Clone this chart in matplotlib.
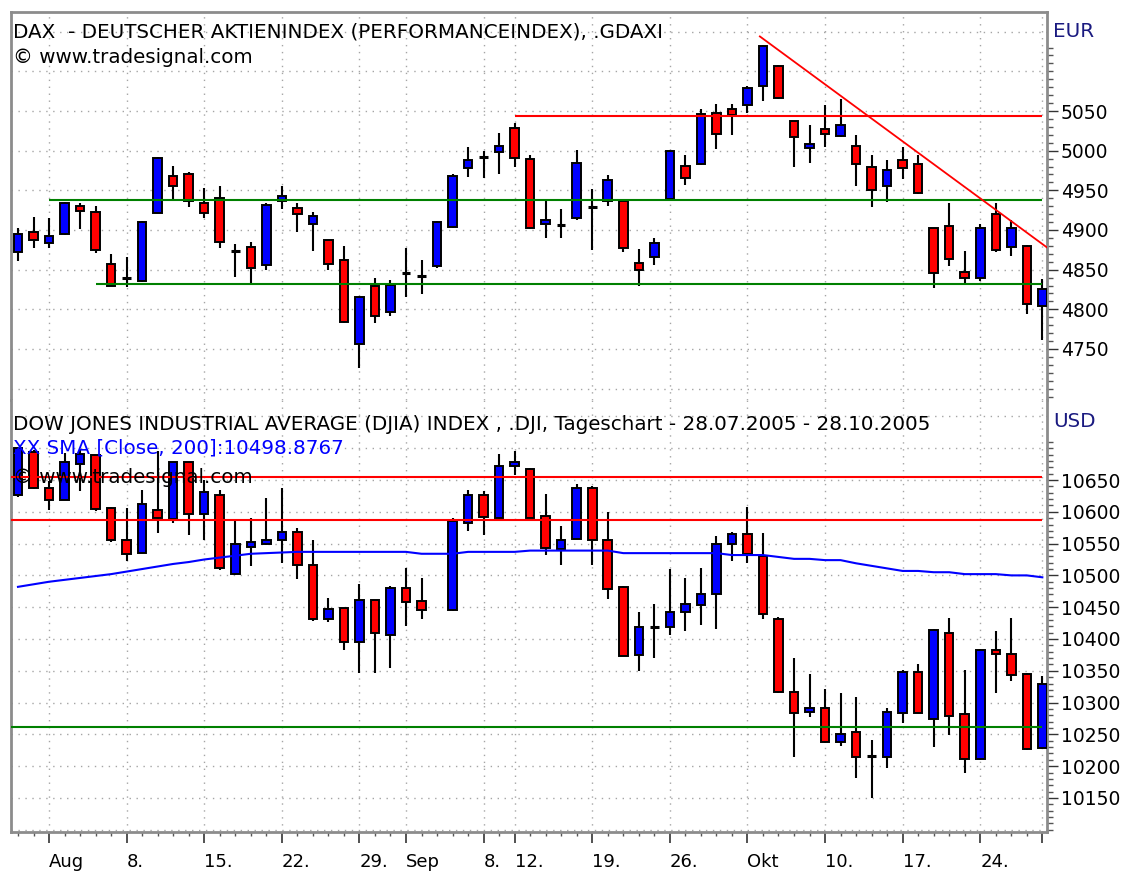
import numpy as np
import pandas as pd
import matplotlib
matplotlib.use('Agg')
import matplotlib.pyplot as plt
from matplotlib.patches import Rectangle

# Handelstage (Mo-Fr) 28.07.2005 - 28.10.2005
days = pd.bdate_range('2005-07-28', '2005-10-28')
pos = {d: i for i, d in enumerate(days)}

# DAX Tageskerzen (67 Tage)
dax_open = [4872, 4898, 4884, 4895, 4930, 4923, 4857, 4840, 4836, 4922,
            4968, 4970, 4934, 4940, 4874, 4878, 4856, 4937, 4928, 4907,
            4887, 4862, 4756, 4830, 4796, 4846, 4841, 4854, 4904, 4978,
            4992, 4998, 5028, 4990, 4908, 4906, 4915, 4928, 4936, 4936,
            4859, 4866, 4939, 4981, 4983, 5048, 5053, 5058, 5082, 5107,
            5037, 5003, 5027, 5018, 5006, 4979, 4955, 4988, 4983, 4902,
            4905, 4847, 4839, 4920, 4878, 4880, 4804]
dax_high = [4903, 4916, 4915, 4935, 4934, 4930, 4870, 4866, 4911, 4992,
            4981, 4973, 4953, 4956, 4882, 4885, 4934, 4956, 4934, 4923,
            4888, 4880, 4817, 4840, 4837, 4877, 4862, 4911, 4971, 5004,
            4999, 5022, 5035, 4994, 4938, 4926, 5001, 4952, 4969, 4937,
            4876, 4890, 5000, 4994, 5052, 5059, 5059, 5082, 5133, 5108,
            5038, 5032, 5058, 5065, 5020, 4995, 4988, 5004, 4995, 4903,
            4934, 4873, 4908, 4934, 4913, 4881, 4838]
dax_low = [4861, 4877, 4877, 4894, 4901, 4871, 4829, 4828, 4835, 4921,
           4939, 4929, 4915, 4877, 4841, 4832, 4850, 4927, 4897, 4874,
           4849, 4783, 4726, 4783, 4792, 4816, 4819, 4852, 4903, 4967,
           4966, 4971, 4980, 4901, 4890, 4890, 4912, 4875, 4930, 4872,
           4829, 4856, 4938, 4957, 4982, 5002, 5020, 5048, 5063, 5065,
           4980, 4984, 5004, 5017, 4955, 4929, 4935, 4964, 4945, 4827,
           4854, 4833, 4836, 4872, 4867, 4794, 4761]
dax_close = [4895, 4887, 4893, 4934, 4924, 4875, 4830, 4839, 4910, 4991,
             4955, 4937, 4922, 4885, 4874, 4852, 4931, 4943, 4920, 4918,
             4857, 4784, 4815, 4792, 4831, 4845, 4842, 4910, 4968, 4988,
             4993, 5006, 4991, 4902, 4913, 4907, 4985, 4929, 4963, 4877,
             4850, 4884, 4999, 4965, 5046, 5021, 5045, 5079, 5132, 5066,
             5017, 5009, 5021, 5032, 4983, 4950, 4976, 4978, 4947, 4846,
             4864, 4839, 4902, 4875, 4902, 4807, 4826]

# Dow Jones (Labor Day 05.09. kein Handel)
djia_days = [d for d in days if d != pd.Timestamp('2005-09-05')]
djia_open = [10626, 10694, 10637, 10619, 10675, 10689, 10606, 10555, 10536, 10603,
             10588, 10678, 10596, 10626, 10502, 10545, 10549, 10556, 10568, 10517,
             10432, 10448, 10395, 10461, 10406, 10480, 10459, 10445, 10583, 10627,
             10590, 10672, 10668, 10593, 10542, 10558, 10637, 10556, 10482, 10375,
             10418, 10419, 10442, 10453, 10470, 10549, 10565, 10530, 10432, 10316,
             10285, 10291, 10238, 10253, 10215, 10215, 10284, 10348, 10274, 10410,
             10282, 10211, 10383, 10376, 10345, 10228]
djia_high = [10701, 10697, 10648, 10692, 10697, 10690, 10607, 10606, 10635, 10695,
             10679, 10679, 10650, 10634, 10585, 10591, 10622, 10638, 10575, 10556,
             10465, 10449, 10487, 10462, 10483, 10512, 10496, 10591, 10635, 10632,
             10691, 10695, 10669, 10628, 10578, 10644, 10640, 10600, 10483, 10443,
             10455, 10510, 10496, 10512, 10562, 10568, 10607, 10566, 10435, 10370,
             10345, 10322, 10315, 10308, 10241, 10291, 10352, 10360, 10415, 10433,
             10352, 10385, 10412, 10433, 10346, 10342]
djia_low = [10624, 10636, 10603, 10618, 10633, 10602, 10552, 10523, 10535, 10567,
            10583, 10564, 10555, 10509, 10501, 10514, 10548, 10519, 10494, 10429,
            10426, 10382, 10346, 10346, 10354, 10421, 10431, 10444, 10570, 10564,
            10589, 10658, 10590, 10532, 10516, 10557, 10516, 10463, 10373, 10350,
            10370, 10406, 10413, 10422, 10415, 10523, 10519, 10432, 10315, 10214,
            10278, 10236, 10231, 10182, 10150, 10197, 10268, 10283, 10230, 10249,
            10189, 10210, 10315, 10334, 10226, 10227]
djia_close = [10700, 10637, 10619, 10678, 10691, 10604, 10555, 10533, 10612, 10590,
              10678, 10596, 10631, 10511, 10549, 10552, 10556, 10568, 10517, 10431,
              10447, 10395, 10461, 10410, 10480, 10458, 10445, 10586, 10627, 10592,
              10672, 10679, 10591, 10543, 10556, 10637, 10556, 10479, 10374, 10419,
              10419, 10442, 10455, 10471, 10549, 10565, 10533, 10439, 10316, 10284,
              10291, 10238, 10251, 10215, 10216, 10285, 10348, 10284, 10414, 10279,
              10211, 10383, 10376, 10343, 10227, 10329]
djia_sma200 = [10482, 10486, 10490, 10493, 10496, 10499, 10502, 10506, 10510, 10514,
               10518, 10521, 10525, 10528, 10531, 10534, 10535, 10536, 10537, 10537,
               10537, 10537, 10537, 10537, 10537, 10537, 10534, 10534, 10537, 10537,
               10537, 10537, 10539, 10539, 10539, 10539, 10539, 10539, 10535, 10535,
               10535, 10535, 10535, 10535, 10535, 10532, 10532, 10532, 10529, 10526,
               10526, 10524, 10524, 10519, 10515, 10511, 10507, 10507, 10505, 10505,
               10502, 10502, 10502, 10500, 10500, 10497]

# Unterstützungen / Widerstände
dax_red_level = 5044
dax_green_levels = [4938, 4832]
dax_green_start = [2, 5]
dax_trend_x = [47.8, 66.3]
dax_trend_y = [5144, 4878]
djia_red_levels = [10655, 10587]
djia_green_level = 10262

tick_days = ['2005-08-01', '2005-08-08', '2005-08-15', '2005-08-22', '2005-08-29',
             '2005-09-01', '2005-09-08', '2005-09-12', '2005-09-19', '2005-09-26',
             '2005-10-03', '2005-10-10', '2005-10-17', '2005-10-24', '2005-10-28']
tick_labels = ['Aug', '8.', '15.', '22.', '29.', 'Sep', '8.', '12.', '19.', '26.',
               'Okt', '10.', '17.', '24.', '']

W, H = 1128, 874
fig = plt.figure(figsize=(W / 100, H / 100), dpi=100)
fig.patch.set_facecolor('white')
ax_top = fig.add_axes([11 / W, 1 - 400 / H, 1036 / W, 388 / H])
ax_bot = fig.add_axes([11 / W, 1 - 832 / H, 1036 / W, 432 / H], sharex=ax_top)

BLUE, RED, GREEN = '#0000ff', '#ff0000', '#008000'
FS = 13          # Achsenbeschriftung
FS_T = 14.3      # Titelzeilen
body_w = 0.55


def candles(ax, xs, o, h, l, c):
    for x, oo, hh, ll, cc in zip(xs, o, h, l, c):
        ax.vlines(x, ll, hh, color='black', lw=1.5, zorder=2)
        if abs(cc - oo) < 1.5:
            ax.hlines((oo + cc) / 2, x - body_w / 2, x + body_w / 2, color='black', lw=2.2, zorder=3)
        else:
            col = BLUE if cc > oo else RED
            ax.add_patch(Rectangle((x - body_w / 2, min(oo, cc)), body_w, abs(cc - oo),
                                   facecolor=col, edgecolor='black', lw=1.4, zorder=3))


x_dax = [pos[d] for d in days]
x_djia = [pos[d] for d in djia_days]
tick_x = [pos[pd.Timestamp(t)] for t in tick_days]

candles(ax_top, x_dax, dax_open, dax_high, dax_low, dax_close)
candles(ax_bot, x_djia, djia_open, djia_high, djia_low, djia_close)

# Linien
ax_top.hlines(dax_red_level, 32, 66, color=RED, lw=1.5, zorder=4)
for lev, st in zip(dax_green_levels, dax_green_start):
    ax_top.hlines(lev, st, 66, color=GREEN, lw=1.5, zorder=4)
ax_top.plot(dax_trend_x, dax_trend_y, color=RED, lw=1.3, zorder=4)

for lev in djia_red_levels:
    ax_bot.hlines(lev, -0.45, 66, color=RED, lw=1.5, zorder=4)
ax_bot.hlines(djia_green_level, -0.45, 66, color=GREEN, lw=1.5, zorder=4)
ax_bot.plot(x_djia, djia_sma200, color=BLUE, lw=1.5, zorder=4)

ax_top.set_xlim(-0.45, 66.3)
ax_top.set_ylim(4685.7, 5174.8)
ax_bot.set_ylim(10096.5, 10775.8)

# Raster (gepunktet)
dot = (0, (1, 4))
for ax, levels in [(ax_top, np.arange(4700, 5151, 50)), (ax_bot, np.arange(10100, 10751, 50))]:
    for v in levels:
        ax.axhline(v, color='#a5a5a5', lw=1.0, ls=dot, zorder=0.5)
    for x in tick_x:
        ax.axvline(x, color='#a5a5a5', lw=1.0, ls=dot, zorder=0.5)

# Achsen
for ax in (ax_top, ax_bot):
    for s in ax.spines.values():
        s.set_color('#8c8c8c')
        s.set_linewidth(2)
    ax.yaxis.tick_right()
    ax.tick_params(axis='y', which='major', direction='out', length=8, width=1,
                   color='#333333', pad=2, labelsize=FS + 0.5)
    ax.tick_params(axis='y', which='minor', direction='out', length=4, width=1, color='#555555')
ax_top.spines['bottom'].set_visible(False)
ax_bot.spines['top'].set_visible(False)

ax_top.set_yticks(np.arange(4750, 5051, 50))
ax_top.set_yticks(np.arange(4690, 5131, 10), minor=True)
ax_bot.set_yticks(np.arange(10150, 10651, 50))
ax_bot.set_yticks(np.arange(10100, 10711, 10), minor=True)

ax_top.tick_params(axis='x', which='both', length=0, labelbottom=False)
ax_bot.set_xticks(tick_x)
ax_bot.set_xticklabels(tick_labels, ha='left', fontsize=FS)
ax_bot.set_xticks(range(len(days)), minor=True)
ax_bot.tick_params(axis='x', which='major', direction='out', length=8, width=1.2, color='#333333', pad=7)
ax_bot.tick_params(axis='x', which='minor', direction='out', length=3, width=1, color='#555555')

# Texte
def ftext(x, y, s, **kw):
    fig.text(x / W, 1 - y / H, s, va='baseline', fontsize=FS_T, **kw)

ftext(13, 37, 'DAX  - DEUTSCHER AKTIENINDEX (PERFORMANCEINDEX), .GDAXI')
ftext(13, 63, '© www.tradesignal.com')
ftext(13, 430, 'DOW JONES INDUSTRIAL AVERAGE (DJIA) INDEX , .DJI, Tageschart - 28.07.2005 - 28.10.2005')
ftext(13, 454, 'XX SMA [Close, 200]:10498.8767', color=BLUE)
ftext(13, 483, '© www.tradesignal.com')
ftext(1053, 37, 'EUR', color='#1a1a80')
ftext(1053, 427, 'USD', color='#1a1a80')

fig.savefig('out.png', dpi=100)
